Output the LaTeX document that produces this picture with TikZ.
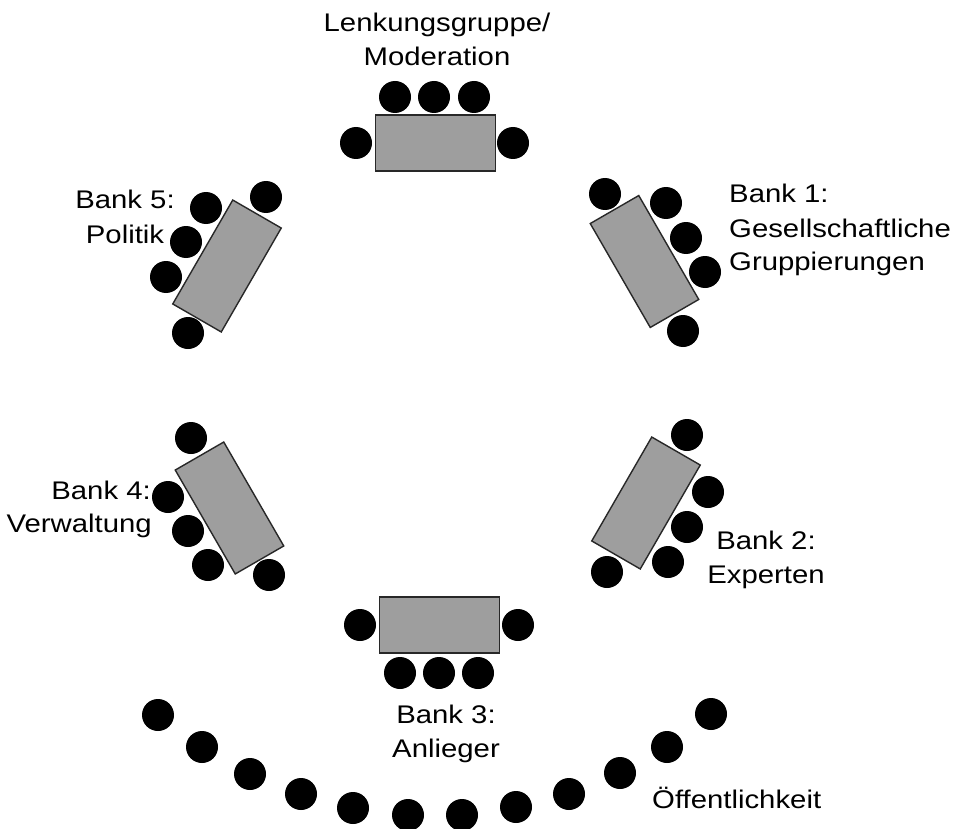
\documentclass[tikz,border=0pt]{standalone}
\usepackage{fontspec}
\setmainfont[FakeStretch=1.15]{Liberation Sans}
\definecolor{tablegray}{RGB}{158,158,158}
\definecolor{edgegray}{RGB}{40,40,40}
\begin{document}
\begin{tikzpicture}[x=1pt,y=-1pt,
  chair/.style={circle,fill=black,draw=none,minimum size=32pt,inner sep=0pt},
  tablebox/.style={rectangle,fill=tablegray,draw=edgegray,line width=1.4pt,minimum width=120pt,minimum height=56pt,inner sep=0pt},
  lbl/.style={inner sep=0pt,font=\fontsize{25.5}{34}\selectfont}]
\useasboundingbox[fill=white] (0,0) rectangle (979,829);
% chairs
\foreach \x/\y [count=\i] in {395/97,434/97,474/97,356/143,513/143,
  360/625,518/625,400/673,439/673,478/673,
  266/197,206/208,186/242,166/277,188/333,
  605/194,666/203,686/238,705/272,683/331,
  191/438,168/497,188/531,208/565,269/575,
  687/435,708/492,687/527,668/562,607/572,
  158/715,202/747,250/774,301/794,353/808,408/815,462/815,516/807,569/794,620/773,667/747,711/714}
  \node[chair] (c\i) at (\x,\y) {};
% tables
\node[tablebox] (tmod) at (435.5,143) {};
\node[tablebox] (t3) at (439.5,625) {};
\node[tablebox,rotate=60] (t5) at (227,266) {};
\node[tablebox,rotate=-60] (t1) at (644.5,261.5) {};
\node[tablebox,rotate=-60] (t4) at (229.5,508) {};
\node[tablebox,rotate=60] (t2) at (646,503) {};
% labels
\node[lbl,anchor=base] (lmod1) at (437,32) {Lenkungsgruppe/};
\node[lbl,anchor=base] (lmod2) at (437,66) {Moderation};
\node[lbl,anchor=base] (l5a) at (125,208) {Bank 5:};
\node[lbl,anchor=base] (l5b) at (125,243) {Politik};
\node[lbl,anchor=base west] (l1a) at (729,203) {Bank 1:};
\node[lbl,anchor=base west] (l1b) at (729,237) {Gesellschaftliche};
\node[lbl,anchor=base west] (l1c) at (729,270) {Gruppierungen};
\node[lbl,anchor=base east] (l4a) at (151,499) {Bank 4:};
\node[lbl,anchor=base east] (l4b) at (152,532) {Verwaltung};
\node[lbl,anchor=base] (l2a) at (766,549) {Bank 2:};
\node[lbl,anchor=base] (l2b) at (766,583) {Experten};
\node[lbl,anchor=base] (l3a) at (446,723) {Bank 3:};
\node[lbl,anchor=base] (l3b) at (446,757) {Anlieger};
\node[lbl,anchor=base west] (lpub) at (652,808) {Öffentlichkeit};
\end{tikzpicture}
\end{document}
